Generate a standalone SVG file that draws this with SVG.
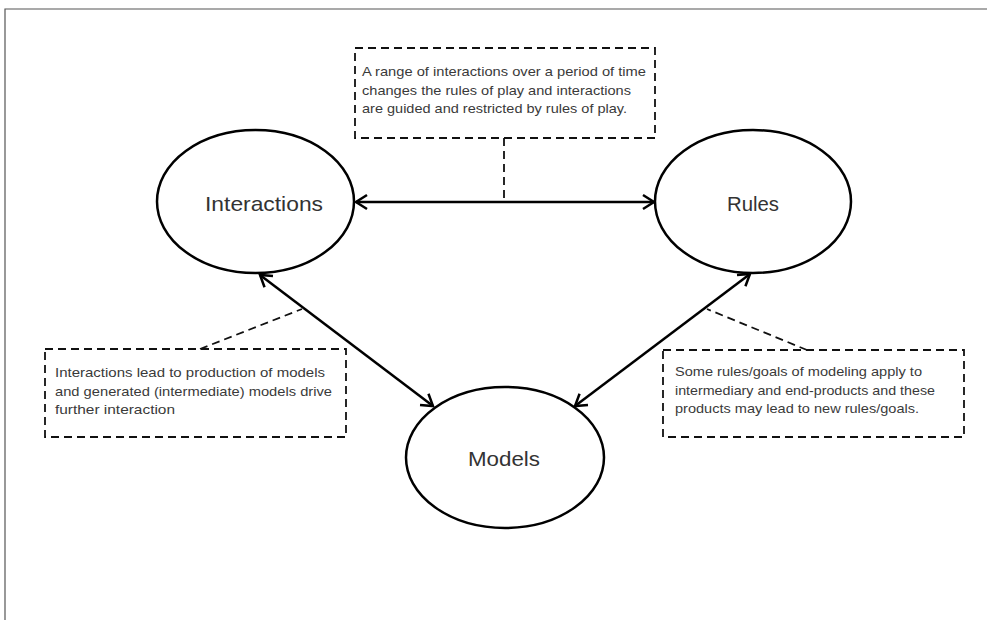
<svg xmlns="http://www.w3.org/2000/svg" width="987" height="620" viewBox="0 0 987 620">
<style>
.node{fill:#fff;stroke:#000;stroke-width:2.5}
.lbl{font-family:"Liberation Sans",Arial,sans-serif;font-size:21px;fill:#333;text-anchor:middle}
.note{fill:none;stroke:#111;stroke-width:1.8;stroke-dasharray:8 5}
.ntxt{font-family:"Liberation Sans",Arial,sans-serif;font-size:13.5px;fill:#3a3a3a}
.arr{fill:none;stroke:#000;stroke-width:2.5;marker-start:url(#ah);marker-end:url(#ah)}
.lead{fill:none;stroke:#111;stroke-width:1.8;stroke-dasharray:8 5}
</style>
<defs>
<marker id="ah" markerUnits="userSpaceOnUse" viewBox="-14 -9 18 18" refX="0" refY="0" markerWidth="18" markerHeight="18" orient="auto-start-reverse">
<path d="M -11 -7 L 0 0 L -11 7" fill="none" stroke="#000" stroke-width="2.5"/>
</marker>
</defs>
<rect width="987" height="620" fill="#fff"/>
<path d="M 5 620 L 5 9 L 987 9" fill="none" stroke="#555" stroke-width="1.2"/>
<g id="connectors">
<path class="arr" d="M 356 202 L 654 202"/>
<path class="arr" d="M 260 275 L 433 406"/>
<path class="arr" d="M 750 274 L 575 406"/>
<path class="lead" d="M 504 138 L 504 198"/>
<path class="lead" d="M 200 349 L 302 309"/>
<path class="lead" d="M 807 350 L 707 309"/>
</g>
<g id="interactions">
<ellipse class="node" cx="255.5" cy="201.5" rx="98.5" ry="71.5"/>
<text class="lbl" x="264" y="211" textLength="118" lengthAdjust="spacingAndGlyphs">Interactions</text>
</g>
<g id="rules">
<ellipse class="node" cx="753" cy="201.5" rx="98" ry="71.5"/>
<text class="lbl" x="753" y="211" textLength="52" lengthAdjust="spacingAndGlyphs">Rules</text>
</g>
<g id="models">
<ellipse class="node" cx="505" cy="457.5" rx="99" ry="70.5"/>
<text class="lbl" x="504" y="466" textLength="72" lengthAdjust="spacingAndGlyphs">Models</text>
</g>
<g id="note-top">
<rect class="note" x="355" y="48" width="300" height="90"/>
<text class="ntxt" x="362" y="76" textLength="284" lengthAdjust="spacingAndGlyphs">A range of interactions over a period of time</text>
<text class="ntxt" x="362" y="95" textLength="269" lengthAdjust="spacingAndGlyphs">changes the rules of play and interactions</text>
<text class="ntxt" x="362" y="113" textLength="265" lengthAdjust="spacingAndGlyphs">are guided and restricted by rules of play.</text>
</g>
<g id="note-left">
<rect class="note" x="45" y="349" width="301" height="88"/>
<text class="ntxt" x="55" y="377" textLength="270" lengthAdjust="spacingAndGlyphs">Interactions lead to production of models</text>
<text class="ntxt" x="55" y="396" textLength="277" lengthAdjust="spacingAndGlyphs">and generated (intermediate) models drive</text>
<text class="ntxt" x="55" y="414" textLength="120" lengthAdjust="spacingAndGlyphs">further interaction</text>
</g>
<g id="note-right">
<rect class="note" x="663" y="350" width="301" height="87"/>
<text class="ntxt" x="675" y="376" textLength="247" lengthAdjust="spacingAndGlyphs">Some rules/goals of modeling apply to</text>
<text class="ntxt" x="675" y="395" textLength="260" lengthAdjust="spacingAndGlyphs">intermediary and end-products and these</text>
<text class="ntxt" x="675" y="413" textLength="244" lengthAdjust="spacingAndGlyphs">products may lead to new rules/goals.</text>
</g>
</svg>
